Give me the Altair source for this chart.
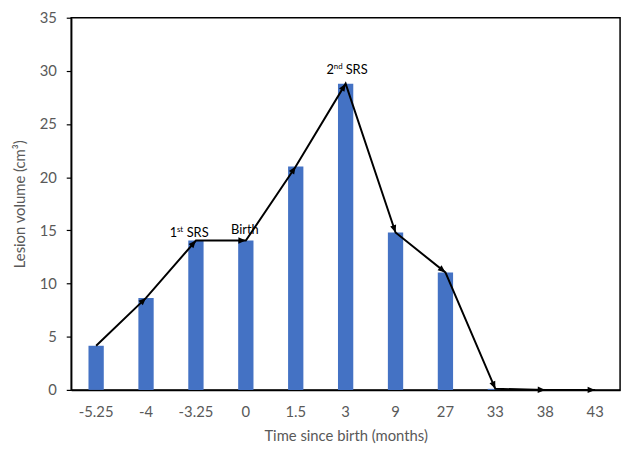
import math
import altair as alt
import pandas as pd

# ---- data ----
times = ["-5.25", "-4", "-3.25", "0", "1.5", "3", "9", "27", "33", "38", "43"]
volumes = [4.15, 8.65, 14.05, 14.05, 21.0, 28.8, 14.8, 11.05, 0.1, 0.0, 0.0]

anno_text = ["1", "st", "SRS", "Birth", "2", "nd", "SRS"]
anno_at = ["-3.25", "-3.25", "-3.25", "0", "3", "3", "3"]
anno_level = [14.42, 14.42, 14.42, 14.67, 29.74, 29.74, 29.74]
anno_sup = [False, True, False, False, False, True, False]

# ---- layout / style ----
W, H = 556, 377
YMAX = 35
FONT = "Lato"
GRAY = "#595959"
BLUE = "#4472C4"
anno_dx = [-26.5, -19.3, -9.4, -15.0, -19.5, -12.0, 0.0]

df = pd.DataFrame({"time": times, "volume": volumes})

# arrowhead direction for each segment end, from the pixel scales
step = W / len(times)
k = H / YMAX
heads = []
for i in range(1, len(times)):
    dv = volumes[i] - volumes[i - 1]
    ang = math.degrees(math.atan2(step, dv * k))
    heads.append({"time": times[i], "volume": volumes[i], "angle": ang})
heads_df = pd.DataFrame(heads)

xenc = alt.X(
    "time:N",
    sort=times,
    scale=alt.Scale(paddingInner=0, paddingOuter=0),
    axis=alt.Axis(
        title="Time since birth (months)",
        labelAngle=0,
        ticks=False,
        tickSize=0,
        labelPadding=15,
        titlePadding=9,
    ),
)
yenc = alt.Y(
    "volume:Q",
    scale=alt.Scale(domain=[0, YMAX], nice=False),
    axis=alt.Axis(
        title="Lesion volume (cm³)",
        values=list(range(0, 36, 5)),
        tickSize=5,
        labelPadding=10,
        titlePadding=12,
        grid=False,
    ),
)

bars = alt.Chart(df).mark_bar(color=BLUE, width=15.5).encode(x=xenc, y=yenc)
line = alt.Chart(df).mark_line(color="black", strokeWidth=2).encode(
    x=alt.X("time:N", sort=times), y="volume:Q"
)
arrow = (
    alt.Chart(heads_df)
    .mark_point(
        shape="M0,0 L-0.42,1 L0.42,1 Z",
        filled=True,
        color="black",
        opacity=1,
        size=230,
    )
    .encode(
        x=alt.X("time:N", sort=times),
        y="volume:Q",
        angle=alt.Angle("angle:Q", scale=None),
    )
)

layers = [bars, line, arrow]
anno_df = pd.DataFrame({"time": anno_at, "level": anno_level, "label": anno_text})
for i in range(len(anno_text)):
    sup = anno_sup[i]
    t = (
        alt.Chart(anno_df.iloc[[i]])
        .mark_text(
            align="left",
            baseline="alphabetic",
            font=FONT,
            fontSize=8 if sup else 13,
            dx=anno_dx[i],
            dy=-5 if sup else 0,
            color="black",
        )
        .encode(
            x=alt.X("time:N", sort=times),
            y=alt.Y("level:Q"),
            text="label:N",
        )
    )
    layers.append(t)

chart = (
    alt.layer(*layers)
    .properties(
        width=W,
        height=H,
        autosize=alt.AutoSizeParams(type="none"),
        padding={"left": 64, "top": 7, "right": 6, "bottom": 55},
    )
    .configure_view(stroke="black", strokeWidth=1.5)
    .configure_axis(
        domainColor="black",
        domainWidth=1.5,
        tickColor="black",
        tickWidth=1.2,
        labelColor=GRAY,
        labelFont=FONT,
        labelFontSize=15,
        titleColor=GRAY,
        titleFont=FONT,
        titleFontSize=15,
        titleFontWeight="normal",
        grid=False,
    )
)

chart.save("out.html", embed_options={"renderer": "svg", "actions": False})
